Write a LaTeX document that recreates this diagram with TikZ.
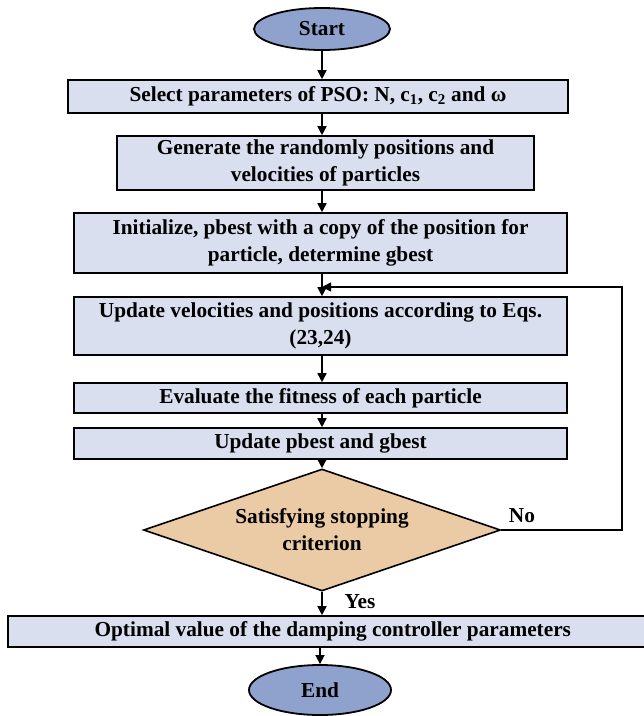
\documentclass[tikz,border=0pt]{standalone}
\usepackage{fontspec}
\setmainfont{Liberation Serif}
\usetikzlibrary{shapes.geometric,arrows.meta}
\definecolor{ovalblue}{HTML}{8FA2CD}
\definecolor{boxblue}{HTML}{D9DFEE}
\definecolor{tan}{HTML}{EBCBA5}
\tikzset{
  terminal/.style={ellipse, draw, line width=1.8pt, fill=ovalblue, inner sep=0pt, font=\bfseries\fontsize{21.3}{27}\selectfont},
  process/.style={rectangle, draw, line width=1.6pt, fill=boxblue, inner sep=0pt, align=center, font=\bfseries\fontsize{21.3}{27}\selectfont},
  decision/.style={diamond, aspect=2.9, draw, line width=1.6pt, fill=tan, inner sep=0pt, align=center, font=\bfseries\fontsize{21.3}{27}\selectfont},
  flow/.style={line width=1.6pt, -{Triangle[length=9pt,width=9pt]}},
}
\begin{document}
\begin{tikzpicture}[x=1pt,y=-1pt]
\useasboundingbox (0,0) rectangle (644,716);
\node[terminal, minimum width=136pt, minimum height=42pt] (start) at (322,29){Start};
\node[process, minimum width=500pt, minimum height=33pt] (select) at (318,96.5){Select parameters of PSO: N, c\textsubscript{1}, c\textsubscript{2} and ω};
\node[process, minimum width=417pt, minimum height=54pt] (generate) at (325.5,163){Generate the randomly positions and\\velocities of particles};
\node[process, minimum width=493pt, minimum height=60pt] (init) at (320.5,243){Initialize, pbest with a copy of the position for\\particle, determine gbest};
\node[process, minimum width=493pt, minimum height=58pt] (updv) at (320.5,326){Update velocities and positions according to Eqs.\\(23,24)};
\node[process, minimum width=493pt, minimum height=30pt] (eval) at (320.5,398){Evaluate the fitness of each particle};
\node[process, minimum width=493pt, minimum height=31pt] (updb) at (320.5,443.5){Update pbest and gbest};
\node[decision, minimum width=357pt, minimum height=122pt] (stop) at (322,530){Satisfying stopping\\criterion};
\node[process, minimum width=650pt, minimum height=31pt, anchor=west] (optimal) at (7,631.5){Optimal value of the damping controller parameters};
\node[terminal, minimum width=142pt, minimum height=50pt] (end) at (320,690){End};
\node[font=\bfseries\fontsize{21.3}{27}\selectfont] (no) at (522,516){No};
\node[font=\bfseries\fontsize{21.3}{27}\selectfont] (yes) at (360,602){Yes};
\coordinate (loopa) at (622,530);
\coordinate (loopb) at (622,287);
\coordinate (loopc) at (322,287);
\draw[flow] (start.south) -- (start.south |- select.north);
\draw[flow] (select.south -| start.south) -- (start.south |- generate.north);
\draw[flow] (generate.south -| start.south) -- (start.south |- init.north);
\draw[flow] (init.south -| start.south) -- (start.south |- updv.north);
\draw[flow] (updv.south -| start.south) -- (start.south |- eval.north);
\draw[flow] (eval.south -| start.south) -- (start.south |- updb.north);
\draw[flow] (updb.south -| start.south) -- (stop);
\draw[flow] (stop.south) -- (stop.south |- optimal.north);
\draw[flow] (optimal.south -| end.north) -- (end);
\draw[flow] (stop.east) -- (loopa) -- (loopb) -- (loopc);
\end{tikzpicture}
\end{document}
